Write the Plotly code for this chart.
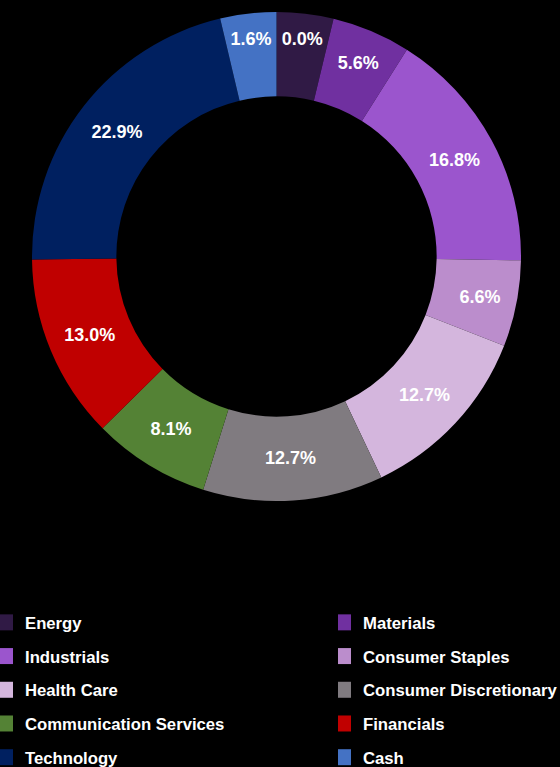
import plotly.graph_objects as go

categories = ["Energy", "Materials", "Industrials", "Consumer Staples", "Health Care",
              "Consumer Discretionary", "Communication Services", "Financials",
              "Technology", "Cash"]
# slice shares as drawn in the picture (percent of the ring)
slice_share = [3.75, 5.2, 16.3, 5.7, 12.0, 11.9, 7.75, 12.2, 21.5, 3.7]
# percentages printed on the slices
pct_labels = ["0.0%", "5.6%", "16.8%", "6.6%", "12.7%", "12.7%", "8.1%", "13.0%", "22.9%", "1.6%"]
colors = ["#301A45", "#7030A0", "#9B55CD", "#BB8DCC", "#D4B6DD",
          "#807B80", "#548235", "#C00000", "#002060", "#4472C4"]

W, H = 560, 767
cx, cy, R = 276.5, 256.5, 244.5

fig = go.Figure()
fig.add_trace(go.Pie(
    labels=categories, values=slice_share, text=pct_labels,
    textinfo="text", textposition="inside", insidetextorientation="horizontal",
    textfont=dict(family="Liberation Sans, Arial", size=18, color="white", weight="bold"),
    marker=dict(colors=colors, line=dict(width=0)),
    hole=0.655, sort=False, direction="clockwise", rotation=0,
    showlegend=False,
    domain=dict(x=[(cx - R) / W, (cx + R) / W], y=[1 - (cy + R) / H, 1 - (cy - R) / H]),
))

# legend entries: left column = even index, right column = odd index
for i, (cat, col) in enumerate(zip(categories, colors)):
    fig.add_trace(go.Scatter(
        x=[None], y=[None], mode="markers", name=cat,
        marker=dict(symbol="square", size=16, color=col, line=dict(width=0)),
        legend="legend" if i % 2 == 0 else "legend2",
        legendgroup=cat, showlegend=True, hoverinfo="skip",
    ))

leg_common = dict(
    font=dict(family="Liberation Sans, Arial", size=16.7, color="white", weight="bold"),
    bgcolor="rgba(0,0,0,0)", orientation="v", tracegroupgap=9,
    xanchor="left", yanchor="top", itemclick=False, itemdoubleclick=False,
    indentation=-15,
)
fig.update_layout(
    width=W, height=H, margin=dict(l=0, r=0, t=0, b=0, autoexpand=False),
    paper_bgcolor="black", plot_bgcolor="black",
    xaxis=dict(visible=False), yaxis=dict(visible=False),
    uniformtext=dict(minsize=18, mode="show"),
    legend=dict(x=0, y=1 - 605 / H, **leg_common),
    legend2=dict(x=338 / W, y=1 - 605 / H, **leg_common),
)

fig.write_html("out.html", config={"displayModeBar": False},
               post_script="document.body.style.margin='0';document.body.style.background='black';")
